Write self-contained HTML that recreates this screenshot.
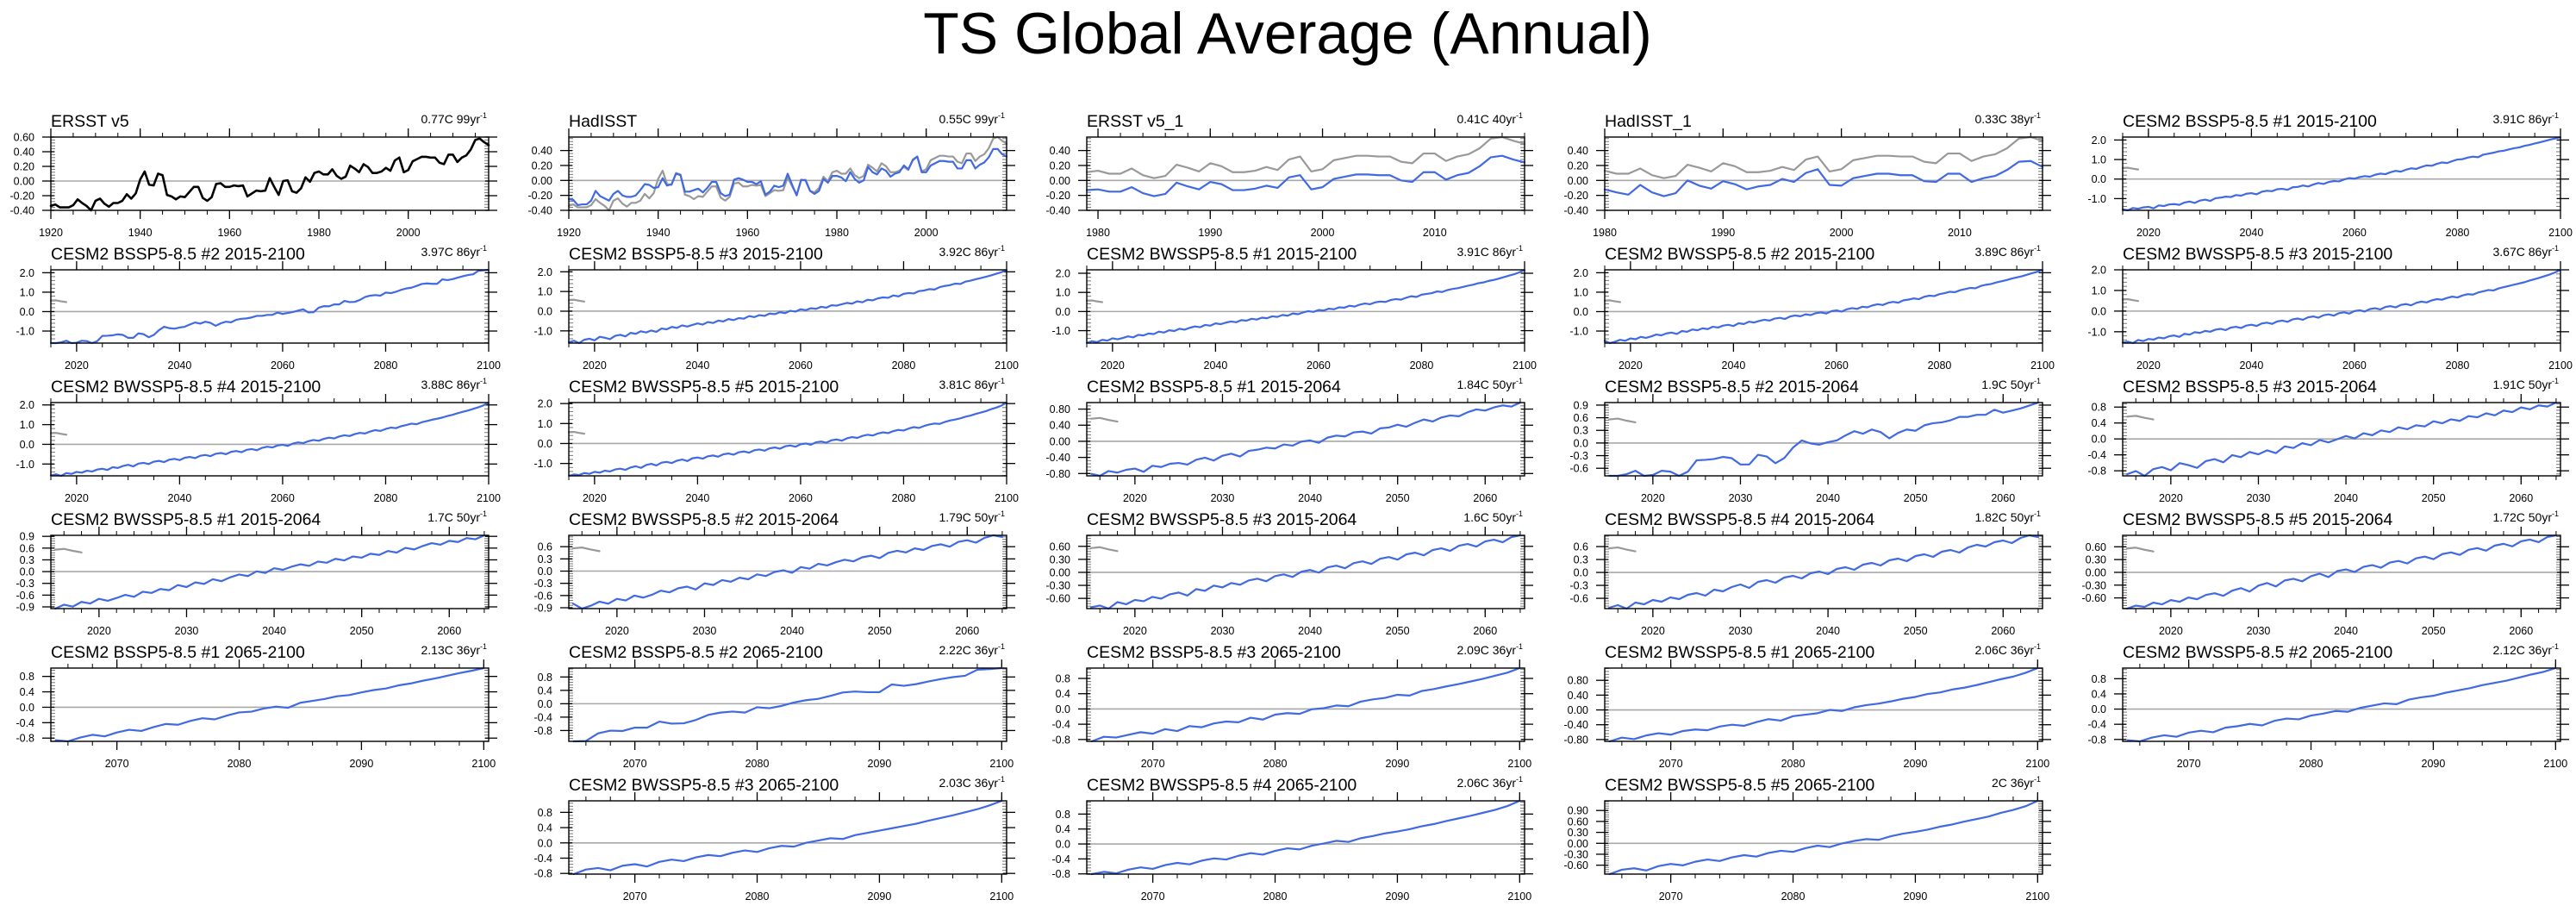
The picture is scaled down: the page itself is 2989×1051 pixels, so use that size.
<!DOCTYPE html>
<html><head><meta charset="utf-8"><title>TS Global Average (Annual)</title>
<style>
html,body{margin:0;padding:0;background:#fff;}
svg{display:block;font-family:"Liberation Sans",Arial,sans-serif;}
</style></head>
<body>
<svg id="chart" width="2989" height="1051" viewBox="0 0 2989 1051" xmlns="http://www.w3.org/2000/svg">
<rect x="0" y="0" width="2989" height="1051" fill="#fff"/>
<text x="1494" y="62" font-size="68" text-anchor="middle" fill="#000">TS Global Average (Annual)</text>
</svg>
<script>
// ---------- observed data ----------
const ERSST = [-0.34,-0.32,-0.36,-0.36,-0.36,-0.33,-0.25,-0.30,-0.34,-0.40,-0.27,-0.24,-0.31,-0.35,-0.30,-0.30,-0.27,-0.18,-0.24,-0.17,
0.02,0.13,-0.05,-0.06,0.10,0.08,-0.19,-0.21,-0.25,-0.21,-0.22,-0.15,-0.08,-0.08,-0.23,-0.27,-0.22,-0.04,-0.03,-0.08,
-0.08,-0.06,-0.07,-0.06,-0.21,-0.17,-0.13,-0.14,-0.13,0.04,-0.08,-0.19,0.00,0.01,-0.14,-0.16,-0.10,0.05,-0.01,0.11,
0.13,0.09,0.09,0.16,0.07,0.03,0.06,0.21,0.17,0.12,0.23,0.19,0.11,0.11,0.13,0.18,0.14,0.28,0.32,0.12,
0.15,0.27,0.30,0.33,0.33,0.32,0.32,0.25,0.23,0.36,0.36,0.26,0.32,0.35,0.43,0.56,0.58,0.53,0.49];
const HADISST = [-0.25,-0.26,-0.33,-0.32,-0.32,-0.27,-0.14,-0.21,-0.24,-0.27,-0.18,-0.14,-0.20,-0.22,-0.22,-0.20,-0.13,-0.05,-0.06,-0.10,
-0.09,0.03,-0.07,-0.05,0.09,0.07,-0.15,-0.15,-0.13,-0.11,-0.16,-0.10,-0.02,-0.02,-0.17,-0.21,-0.19,0.01,0.03,0.01,
-0.02,-0.02,-0.05,-0.01,-0.19,-0.15,-0.07,-0.09,-0.07,0.09,-0.06,-0.20,0.01,0.00,-0.14,-0.18,-0.14,0.02,-0.03,0.06,
0.06,0.04,-0.01,0.11,0.02,-0.03,0.00,0.18,0.11,0.08,0.16,0.13,0.05,0.09,0.11,0.20,0.15,0.27,0.32,0.11,
0.11,0.20,0.23,0.26,0.26,0.25,0.25,0.16,0.16,0.27,0.27,0.16,0.21,0.24,0.31,0.42,0.42,0.35,0.32];
const ERSST_1 = [-0.13,-0.12,-0.15,-0.15,-0.09,-0.17,-0.21,-0.18,-0.03,-0.08,-0.12,-0.02,-0.05,-0.13,-0.13,-0.11,-0.07,-0.10,0.04,0.07,
-0.12,-0.09,0.02,0.05,0.08,0.08,0.07,0.07,0.00,-0.02,0.11,0.11,0.01,0.07,0.10,0.19,0.31,0.33,0.28,0.24];
const HADISST_1 = [-0.12,-0.16,-0.19,-0.06,-0.16,-0.21,-0.17,0.00,-0.07,-0.11,-0.01,-0.05,-0.12,-0.08,-0.06,0.02,-0.02,0.10,0.15,-0.06,
-0.07,0.03,0.06,0.09,0.09,0.07,0.07,-0.01,-0.02,0.09,0.09,-0.02,0.03,0.06,0.14,0.25,0.26,0.18];
// ---------- model data 2015-2100 ----------
const BSSP1 = [-1.55,-1.60,-1.48,-1.52,-1.45,-1.42,-1.50,-1.35,-1.38,-1.30,-1.28,-1.32,-1.20,-1.15,-1.22,-1.10,-1.05,-1.12,-0.98,-0.95,
-0.90,-0.92,-0.82,-0.85,-0.75,-0.72,-0.78,-0.65,-0.60,-0.62,-0.52,-0.50,-0.55,-0.42,-0.40,-0.33,-0.38,-0.28,-0.20,-0.25,
-0.15,-0.10,-0.12,-0.02,0.05,0.02,0.10,0.15,0.12,0.22,0.28,0.25,0.35,0.42,0.38,0.48,0.55,0.52,0.62,0.70,
0.68,0.78,0.85,0.82,0.92,1.00,1.02,1.10,1.15,1.12,1.25,1.30,1.35,1.42,1.45,1.52,1.58,1.62,1.70,1.75,
1.82,1.88,1.95,2.02,2.08,2.15];
const BSSP2 = [-1.62,-1.62,-1.58,-1.50,-1.62,-1.60,-1.50,-1.52,-1.62,-1.52,-1.25,-1.24,-1.22,-1.17,-1.20,-1.35,-1.35,-1.12,-1.16,-1.32,
-1.20,-0.95,-0.78,-0.85,-0.88,-0.82,-0.78,-0.66,-0.56,-0.62,-0.52,-0.58,-0.73,-0.60,-0.52,-0.55,-0.42,-0.37,-0.35,-0.30,
-0.22,-0.22,-0.17,-0.17,-0.05,-0.12,-0.07,-0.02,0.05,0.12,-0.04,-0.03,0.20,0.28,0.27,0.37,0.37,0.55,0.49,0.50,
0.60,0.75,0.82,0.85,0.82,0.98,0.95,1.02,1.12,1.19,1.23,1.32,1.42,1.45,1.43,1.43,1.66,1.62,1.67,1.75,
1.82,1.88,1.92,2.10,2.12,2.15];
const BSSP3 = [-1.58,-1.50,-1.62,-1.45,-1.40,-1.48,-1.30,-1.35,-1.42,-1.25,-1.20,-1.28,-1.10,-1.15,-1.02,-1.08,-0.98,-1.05,-0.88,-0.92,
-0.80,-0.85,-0.72,-0.78,-0.70,-0.62,-0.68,-0.55,-0.60,-0.48,-0.52,-0.40,-0.45,-0.35,-0.38,-0.25,-0.30,-0.20,-0.24,-0.12,
-0.15,-0.05,-0.10,0.02,-0.02,0.10,0.05,0.15,0.12,0.22,0.18,0.30,0.28,0.35,0.42,0.38,0.50,0.45,0.58,0.55,
0.65,0.70,0.68,0.80,0.75,0.88,0.92,0.90,1.02,1.05,1.12,1.10,1.22,1.28,1.32,1.40,1.38,1.50,1.55,1.62,
1.68,1.75,1.82,1.90,1.98,2.10];
const BWSSP1 = [-1.65,-1.55,-1.60,-1.48,-1.52,-1.40,-1.45,-1.38,-1.30,-1.35,-1.22,-1.25,-1.15,-1.18,-1.05,-1.10,-0.98,-1.02,-0.90,-0.95,
-0.85,-0.78,-0.82,-0.70,-0.74,-0.62,-0.66,-0.58,-0.52,-0.56,-0.45,-0.48,-0.38,-0.42,-0.32,-0.35,-0.25,-0.28,-0.18,-0.22,
-0.10,-0.14,-0.05,0.02,-0.02,0.08,0.05,0.15,0.12,0.22,0.20,0.30,0.26,0.36,0.42,0.38,0.48,0.52,0.50,0.60,
0.65,0.62,0.72,0.80,0.76,0.88,0.92,0.96,1.05,1.02,1.12,1.18,1.22,1.28,1.35,1.40,1.48,1.52,1.60,1.65,
1.72,1.80,1.88,1.95,2.05,2.18];
const BWSSP2 = [-1.50,-1.62,-1.55,-1.45,-1.50,-1.38,-1.42,-1.30,-1.35,-1.28,-1.18,-1.22,-1.12,-1.08,-1.15,-1.00,-1.04,-0.92,-0.96,-0.86,
-0.90,-0.78,-0.82,-0.72,-0.68,-0.74,-0.60,-0.64,-0.52,-0.56,-0.48,-0.42,-0.46,-0.36,-0.32,-0.38,-0.25,-0.20,-0.24,-0.14,
-0.18,-0.08,-0.04,-0.10,0.02,0.06,0.00,0.12,0.18,0.14,0.25,0.22,0.32,0.38,0.34,0.45,0.50,0.46,0.58,0.62,
0.68,0.64,0.76,0.82,0.80,0.90,0.95,1.02,1.00,1.10,1.16,1.22,1.20,1.32,1.38,1.42,1.50,1.56,1.62,1.70,
1.76,1.82,1.90,1.98,2.05,2.15];
const BWSSP3 = [-1.52,-1.48,-1.55,-1.40,-1.45,-1.35,-1.38,-1.28,-1.32,-1.22,-1.18,-1.25,-1.10,-1.14,-1.02,-1.06,-0.96,-1.00,-0.90,-0.86,
-0.92,-0.80,-0.76,-0.82,-0.70,-0.66,-0.72,-0.60,-0.56,-0.62,-0.50,-0.46,-0.52,-0.40,-0.36,-0.42,-0.30,-0.26,-0.32,-0.20,
-0.16,-0.22,-0.10,-0.06,-0.12,0.00,0.04,-0.02,0.10,0.14,0.08,0.20,0.24,0.18,0.30,0.34,0.28,0.40,0.46,0.42,
0.52,0.58,0.55,0.64,0.70,0.66,0.76,0.82,0.80,0.90,0.96,1.02,1.00,1.10,1.16,1.22,1.28,1.34,1.40,1.48,
1.55,1.62,1.70,1.78,1.88,2.00];
const BWSSP4 = [-1.58,-1.52,-1.60,-1.46,-1.50,-1.40,-1.44,-1.34,-1.38,-1.28,-1.24,-1.30,-1.16,-1.20,-1.10,-1.04,-1.12,-0.98,-0.94,-1.00,
-0.88,-0.84,-0.90,-0.78,-0.74,-0.80,-0.68,-0.64,-0.70,-0.58,-0.54,-0.60,-0.48,-0.44,-0.50,-0.38,-0.34,-0.40,-0.28,-0.24,
-0.30,-0.18,-0.12,-0.16,-0.06,-0.02,-0.08,0.04,0.10,0.06,0.16,0.22,0.18,0.28,0.34,0.30,0.40,0.46,0.42,0.52,
0.58,0.55,0.65,0.72,0.68,0.78,0.85,0.82,0.92,0.98,1.05,1.02,1.12,1.18,1.25,1.30,1.36,1.44,1.50,1.58,
1.65,1.72,1.80,1.88,1.98,2.12];
const BWSSP5 = [-1.62,-1.55,-1.58,-1.48,-1.52,-1.42,-1.46,-1.36,-1.40,-1.30,-1.26,-1.32,-1.20,-1.14,-1.22,-1.08,-1.02,-1.10,-0.96,-0.92,
-0.98,-0.86,-0.80,-0.88,-0.74,-0.70,-0.76,-0.64,-0.60,-0.66,-0.54,-0.50,-0.56,-0.44,-0.40,-0.46,-0.34,-0.30,-0.36,-0.24,
-0.20,-0.26,-0.14,-0.10,-0.16,-0.04,0.00,-0.06,0.06,0.10,0.04,0.16,0.20,0.14,0.26,0.32,0.28,0.38,0.44,0.40,
0.50,0.56,0.52,0.62,0.68,0.65,0.75,0.82,0.78,0.88,0.95,1.00,0.98,1.08,1.15,1.20,1.26,1.34,1.40,1.48,
1.55,1.62,1.72,1.80,1.90,2.05];
// ---------- labels ----------
const panelTitles = ["ERSST v5","HadISST","ERSST v5_1","HadISST_1","CESM2 BSSP5-8.5 #1 2015-2100",
"CESM2 BSSP5-8.5 #2 2015-2100","CESM2 BSSP5-8.5 #3 2015-2100","CESM2 BWSSP5-8.5 #1 2015-2100","CESM2 BWSSP5-8.5 #2 2015-2100","CESM2 BWSSP5-8.5 #3 2015-2100",
"CESM2 BWSSP5-8.5 #4 2015-2100","CESM2 BWSSP5-8.5 #5 2015-2100","CESM2 BSSP5-8.5 #1 2015-2064","CESM2 BSSP5-8.5 #2 2015-2064","CESM2 BSSP5-8.5 #3 2015-2064",
"CESM2 BWSSP5-8.5 #1 2015-2064","CESM2 BWSSP5-8.5 #2 2015-2064","CESM2 BWSSP5-8.5 #3 2015-2064","CESM2 BWSSP5-8.5 #4 2015-2064","CESM2 BWSSP5-8.5 #5 2015-2064",
"CESM2 BSSP5-8.5 #1 2065-2100","CESM2 BSSP5-8.5 #2 2065-2100","CESM2 BSSP5-8.5 #3 2065-2100","CESM2 BWSSP5-8.5 #1 2065-2100","CESM2 BWSSP5-8.5 #2 2065-2100",
"CESM2 BWSSP5-8.5 #3 2065-2100","CESM2 BWSSP5-8.5 #4 2065-2100","CESM2 BWSSP5-8.5 #5 2065-2100"];
const trendValues = ["0.77C 99yr","0.55C 99yr","0.41C 40yr","0.33C 38yr","3.91C 86yr",
"3.97C 86yr","3.92C 86yr","3.91C 86yr","3.89C 86yr","3.67C 86yr",
"3.88C 86yr","3.81C 86yr","1.84C 50yr","1.9C 50yr","1.91C 50yr",
"1.7C 50yr","1.79C 50yr","1.6C 50yr","1.82C 50yr","1.72C 50yr",
"2.13C 36yr","2.22C 36yr","2.09C 36yr","2.06C 36yr","2.12C 36yr",
"2.03C 36yr","2.06C 36yr","2C 36yr"];
const yTickSteps = [0.2,0.2,0.2,0.2,1, 1,1,1,1,1, 1,1,0.4,0.3,0.4, 0.3,0.3,0.3,0.3,0.3, 0.4,0.4,0.4,0.4,0.4, 0.4,0.4,0.3];
const yTickDecimals = [2,2,2,2,1, 1,1,1,1,1, 1,1,2,1,1, 1,1,2,1,2, 1,1,1,2,1, 1,1,2];
const obsYMin = [-0.40,-0.40,-0.40,-0.40];
const obsYMax = [0.60,0.58,0.58,0.58];
const modelRuns = [BSSP1,BSSP2,BSSP3,BWSSP1,BWSSP2,BWSSP3,BWSSP4,BWSSP5];
const obsTail = ERSST.slice(95); // 2015-2018 observed, shown in grey

function subAnom(arr, a, b){ const s = arr.slice(a,b); const m = s.reduce((p,c)=>p+c,0)/s.length; return s.map(v=>+(v-m).toFixed(3)); }

const X1 = {x0:1920,x1:2018,maj:20,minStep:5};
const X2 = {x0:1979,x1:2018,maj:10,minStep:2};
const X3 = {x0:1980,x1:2017,maj:10,minStep:2};
const X4 = {x0:2015,x1:2100,maj:20,minStep:5};
const X5 = {x0:2014.5,x1:2064.5,maj:10,minStep:2};
const X6 = {x0:2064.6,x1:2100.4,maj:10,minStep:2};
const BLUE="#4169e1", GREY="#999999";
const panels = [];
panels.push({ax:X1, series:[{v:ERSST,s:1920,c:"#000",w:2.6}]});
panels.push({ax:X1, series:[{v:ERSST,s:1920,c:GREY,w:2.2},{v:HADISST,s:1920,c:BLUE,w:2.2}]});
panels.push({ax:X2, series:[{v:ERSST.slice(59),s:1979,c:GREY,w:2.2},{v:ERSST_1,s:1979,c:BLUE,w:2.2}]});
panels.push({ax:X3, series:[{v:ERSST.slice(60,98),s:1980,c:GREY,w:2.2},{v:HADISST_1,s:1980,c:BLUE,w:2.2}]});
modelRuns.forEach(r=>panels.push({ax:X4, series:[{v:obsTail,s:2015,c:GREY,w:2.2},{v:r,s:2015,c:BLUE,w:2.2}]}));
modelRuns.forEach(r=>panels.push({ax:X5, series:[{v:obsTail,s:2015,c:GREY,w:2.2},{v:subAnom(r,0,50),s:2015,c:BLUE,w:2.2}]}));
modelRuns.forEach(r=>panels.push({ax:X6, series:[{v:subAnom(r,50,86),s:2065,c:BLUE,w:2.2}]}));
const slots = [];
for(let r=0;r<5;r++) for(let c=0;c<5;c++) slots.push([r,c]);
slots.push([5,1],[5,2],[5,3]);

const NS="http://www.w3.org/2000/svg";
const svg=document.getElementById("chart");
function el(tag, attrs, parent){ const e=document.createElementNS(NS,tag); for(const k in attrs) e.setAttribute(k,attrs[k]); (parent||svg).appendChild(e); return e; }

panels.forEach((p,i)=>{
  const [row,col]=slots[i];
  const L=59+col*601, T=159+row*154, W=508, H=85, R=L+W, B=T+H;
  const g=el("g",{});
  
  
  let ymin=Infinity, ymax=-Infinity;
  p.series.forEach(s=>s.v.forEach(v=>{ if(v<ymin)ymin=v; if(v>ymax)ymax=v; }));
  if(i<4){ ymin=Math.min(ymin,obsYMin[i]); ymax=Math.max(ymax,obsYMax[i]); }
  const ax=p.ax;
  const xs=v=>L+(v-ax.x0)/(ax.x1-ax.x0)*W;
  const ys=v=>B-(v-ymin)/(ymax-ymin)*H;
  if(ymin<0 && ymax>0){
    const z=el("line",{x1:L,x2:R,y1:ys(0),y2:ys(0),stroke:"#a8a8a8","stroke-width":1.6},g);
    
    
  }
  const st=yTickSteps[i], dec=yTickDecimals[i];
  const mstep=st/5;
  for(let k=Math.ceil(ymin/mstep-1e-6); k*mstep<=ymax+1e-9; k++){
    const y=ys(k*mstep);
    el("line",{x1:L,x2:L+5,y1:y,y2:y,stroke:"#777","stroke-width":1},g);
    el("line",{x1:R,x2:R-5,y1:y,y2:y,stroke:"#777","stroke-width":1},g);
  }
  for(let k=Math.ceil(ymin/st-1e-6); k*st<=ymax+1e-9; k++){
    const v=k*st, y=ys(v);
    el("line",{x1:L-10,x2:L+4,y1:y,y2:y,stroke:"#000","stroke-width":1.3},g);
    el("line",{x1:R+10,x2:R-4,y1:y,y2:y,stroke:"#000","stroke-width":1.3},g);
    const t=el("text",{x:L-19,y:y+4.5,"font-size":12.5,"text-anchor":"end",fill:"#000"},g);
    
    
    t.textContent=(Math.abs(v)<1e-9?0:v).toFixed(dec);
  }
  for(let v=Math.ceil(ax.x0/ax.minStep)*ax.minStep; v<=ax.x1+1e-9; v+=ax.minStep){
    const x=xs(v);
    el("line",{x1:x,x2:x,y1:B,y2:B+5,stroke:"#000","stroke-width":1},g);
    el("line",{x1:x,x2:x,y1:T,y2:T-5,stroke:"#000","stroke-width":1},g);
  }
  for(let v=Math.ceil(ax.x0/ax.maj)*ax.maj; v<=ax.x1+1e-9; v+=ax.maj){
    const x=xs(v);
    el("line",{x1:x,x2:x,y1:B,y2:B+10,stroke:"#000","stroke-width":1.3},g);
    el("line",{x1:x,x2:x,y1:T,y2:T-10,stroke:"#000","stroke-width":1.3},g);
    const t=el("text",{x:x,y:B+30,"font-size":12.5,"text-anchor":"middle",fill:"#000"},g);
    
    
    t.textContent=v;
  }
  p.series.forEach((s,si)=>{
    const pts=s.v.map((v,j)=>xs(s.s+j).toFixed(2)+","+ys(v).toFixed(2)).join(" ");
    const pl=el("polyline",{points:pts,fill:"none",stroke:s.c,"stroke-width":s.w,"stroke-linejoin":"round","stroke-linecap":"round"},g);
    
    
  });
  const fr=el("rect",{x:L,y:T,width:W,height:H,fill:"none",stroke:"#000","stroke-width":1.4},g);
  
  
  const tt=el("text",{x:L,y:T-12,"font-size":19.5,fill:"#000"},g);
  
  
  tt.textContent=panelTitles[i];
  const tr=el("text",{x:R-2,y:T-16,"font-size":14,"text-anchor":"end",fill:"#000"},g);
  
  
  tr.textContent=trendValues[i];
  const sup=el("tspan",{"font-size":9,dy:-6},tr);
  sup.textContent="-1";
});
</script>
</body></html>
